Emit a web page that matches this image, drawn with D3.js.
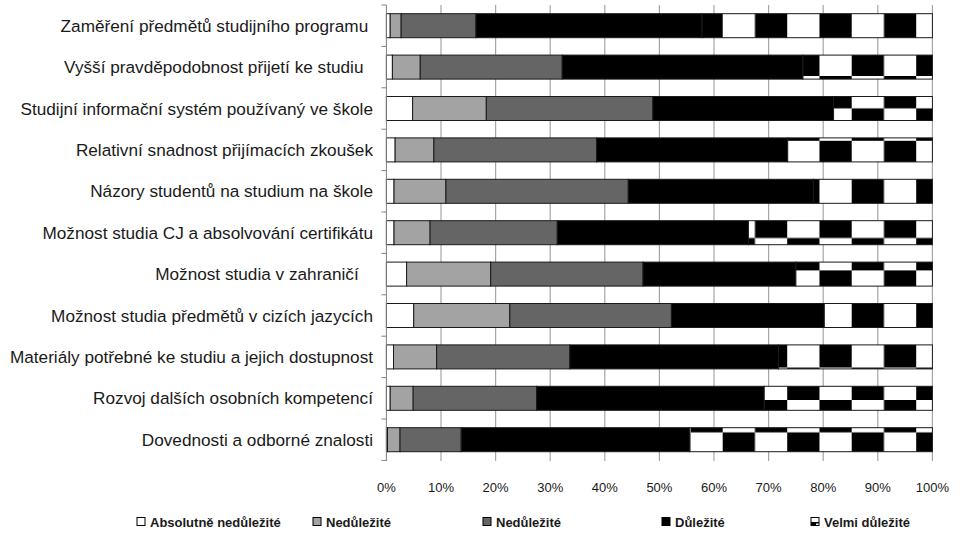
<!DOCTYPE html>
<html><head><meta charset="utf-8">
<script src="https://cdn.jsdelivr.net/npm/d3@7"></script>
<style>
html,body{margin:0;padding:0;background:#fff;}
svg{display:block;font-family:"Liberation Sans",Arial,sans-serif;}
</style></head>
<body>
<svg id="chart" width="964" height="534"></svg>
<script>
const categories = [
  "Zaměření předmětů studijního programu ",
  "Vyšší pravděpodobnost přijetí ke studiu  ",
  "Studijní informační systém používaný ve škole",
  "Relativní snadnost přijímacích zkoušek",
  "Názory studentů na studium na škole",
  "Možnost studia CJ a absolvování certifikátu",
  "Možnost studia v zahraničí   ",
  "Možnost studia předmětů v cizích jazycích",
  "Materiály potřebné ke studiu a jejich dostupnost",
  "Rozvoj dalších osobních kompetencí",
  "Dovednosti a odborné znalosti"
];
const seriesNames = ["Absolutně nedůležité","Nedůležité","Nedůležité","Důležité","Velmi důležité"];
const absolutneNedulezite = [0.7, 1.1, 4.8, 1.6, 1.4, 1.4, 3.7, 5.0, 1.3, 0.7, 0.2];
const nedulezite1        = [2.0, 5.1, 13.5, 7.1, 9.5, 6.6, 15.4, 17.6, 7.9, 4.2, 2.3];
const nedulezite2        = [13.7, 26.0, 30.5, 29.8, 33.4, 23.3, 27.9, 29.6, 24.4, 22.6, 11.2];
const dulezite           = [41.4, 44.1, 33.1, 35.0, 33.9, 35.0, 28.0, 28.0, 38.2, 41.7, 41.8];
const velmiDulezite      = [42.2, 23.7, 18.1, 26.5, 21.8, 33.7, 25.0, 19.8, 28.2, 30.8, 44.5];
const xTicks = [0,10,20,30,40,50,60,70,80,90,100];

const seriesValues = [absolutneNedulezite, nedulezite1, nedulezite2, dulezite, velmiDulezite];
const fills = ["#ffffff","#a3a3a3","#656565","#000000","url(#checker)"];

const svg = d3.select("#chart");
const defs = svg.append("defs");
// large checkerboard pattern (Excel-like)
const pw = 64.5, ph = 64.8;
const pat = defs.append("pattern").attr("id","checker")
  .attr("patternUnits","userSpaceOnUse")
  .attr("x",722.7).attr("y",11.2).attr("width",pw).attr("height",ph);
pat.append("rect").attr("width",pw).attr("height",ph).attr("fill","#fff");
pat.append("rect").attr("x",pw/2).attr("y",0).attr("width",pw/2).attr("height",ph/2).attr("fill","#000");
pat.append("rect").attr("x",0).attr("y",ph/2).attr("width",pw/2).attr("height",ph/2).attr("fill","#000");

const x = d3.scaleLinear().domain([0,100]).range([386.4, 932.4]);
const y = d3.scaleBand().domain(categories).range([5, 460.4]).paddingInner(0.42).paddingOuter(0.21);

// gridlines
svg.append("g").selectAll("line").data(xTicks.slice(1)).join("line")
  .attr("x1",d=>x(d)).attr("x2",d=>x(d)).attr("y1",5).attr("y2",461)
  .attr("stroke","#a6a6a6").attr("stroke-width",1.2);

// stacked data
const rows = categories.map((c,i)=>{ const o={cat:c}; seriesValues.forEach((s,j)=>o["s"+j]=s[i]); return o; });
const stack = d3.stack().keys(seriesValues.map((s,j)=>"s"+j));
const stacked = stack(rows);

svg.append("g").selectAll("g").data(stacked).join("g")
  .attr("fill",(d,i)=>fills[i])
  .selectAll("rect").data(d=>d).join("rect")
  .attr("x",d=>x(d[0])).attr("width",d=>x(d[1])-x(d[0]))
  .attr("y",d=>y(d.data.cat)).attr("height",y.bandwidth())
  .attr("stroke","#1a1a1a").attr("stroke-width",1);

// y axis line + ticks at boundaries
const boundaries = d3.range(categories.length+1).map(i=>5 + i*(460.4-5)/categories.length);
svg.append("line").attr("x1",386.4).attr("x2",386.4).attr("y1",5).attr("y2",461)
  .attr("stroke","#808080").attr("stroke-width",1);
svg.append("g").selectAll("line").data(boundaries).join("line")
  .attr("x1",381.5).attr("x2",386.4).attr("y1",d=>d).attr("y2",d=>d)
  .attr("stroke","#808080").attr("stroke-width",1);

// category labels
svg.append("g").selectAll("text").data(categories).join("text")
  .attr("x",373).attr("y",d=>y(d)+y.bandwidth()/2).attr("dy","0.36em")
  .attr("text-anchor","end").attr("font-size",17.2).attr("fill","#1a1a1a")
  .style("white-space","pre").text(d=>d);

// x tick labels
svg.append("g").selectAll("text").data(xTicks).join("text")
  .attr("x",d=>x(d)).attr("y",492).attr("text-anchor","middle")
  .attr("font-size",13).attr("fill","#1a1a1a").text(d=>d+"%");

// legend
const legendX = [137, 313, 483, 662, 811];
const lg = svg.append("g").selectAll("g").data(seriesNames).join("g")
  .attr("transform",(d,i)=>`translate(${legendX[i]},522)`);
lg.append("rect").attr("x",0).attr("y",-4.5).attr("width",8).attr("height",8)
  .attr("fill",(d,i)=> i===4 ? "#fff" : fills[i]).attr("stroke","#000").attr("stroke-width",1);
lg.filter((d,i)=>i===4).append("rect").attr("x",0).attr("y",0).attr("width",5).attr("height",3.5).attr("fill","#000");
lg.filter((d,i)=>i===4).append("rect").attr("x",5).attr("y",0).attr("width",3).attr("height",1.5).attr("fill","#000");
lg.append("text").attr("x",13).attr("y",0).attr("dy","0.36em")
  .attr("font-size",13).attr("font-weight","bold").attr("fill","#1a1a1a").text(d=>d);
</script>
</body></html>
